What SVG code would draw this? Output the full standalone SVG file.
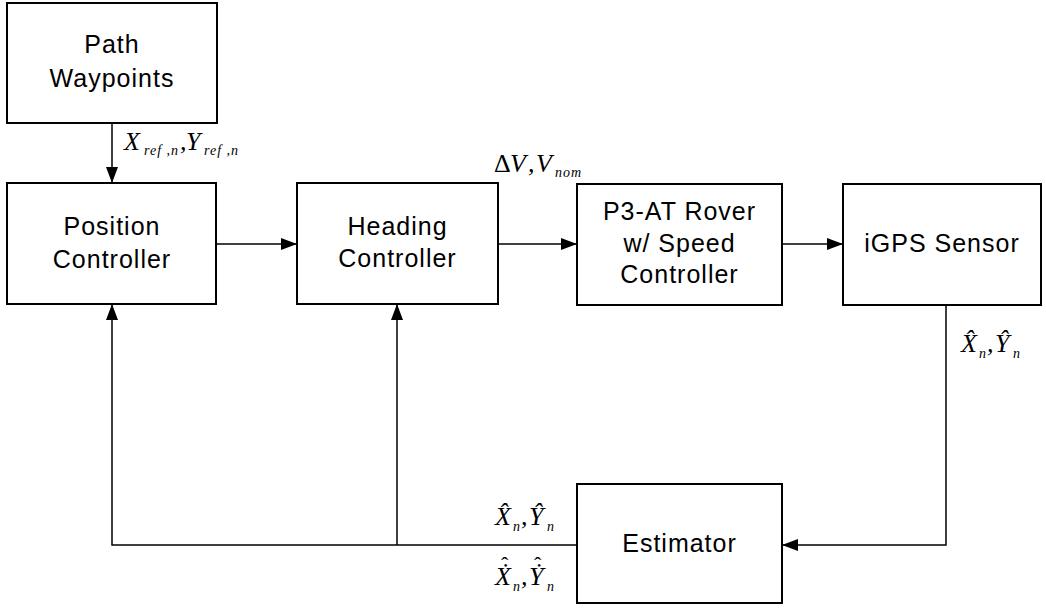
<svg xmlns="http://www.w3.org/2000/svg" width="1046" height="609" viewBox="0 0 1046 609">
<defs>
<marker id="ah" markerWidth="16" markerHeight="12" refX="16" refY="6" orient="auto" markerUnits="userSpaceOnUse">
<path d="M0,0 L16,6 L0,12 z" fill="#000"/>
</marker>
<style>
.box{fill:#fff;stroke:#000;stroke-width:2}
.lbl{font-family:"Liberation Sans",Arial,sans-serif;font-size:25px;letter-spacing:1px;text-anchor:middle;fill:#000}
.conn{fill:none;stroke:#000;stroke-width:1.5}
.m{font-family:"Liberation Serif","Times New Roman",serif;font-style:italic;font-size:26px;fill:#000}
.s{font-size:14px;letter-spacing:1px}
.hat{font-style:normal;font-size:22px}
</style>
</defs>
<rect width="1046" height="609" fill="#fff"/>
<g id="connectors">
<path class="conn" d="M112,123 V183" marker-end="url(#ah)"/>
<path class="conn" d="M216,244 H297" marker-end="url(#ah)"/>
<path class="conn" d="M498,244 H577" marker-end="url(#ah)"/>
<path class="conn" d="M782,244 H843" marker-end="url(#ah)"/>
<path class="conn" d="M946,305 V545 H782" marker-end="url(#ah)"/>
<path class="conn" d="M577,545 H112 V304" marker-end="url(#ah)"/>
<path class="conn" d="M397,545 V304" marker-end="url(#ah)"/>
</g>
<g id="path-waypoints">
<rect class="box" x="7" y="3" width="210" height="120"/>
<text class="lbl" x="112" y="53">Path</text>
<text class="lbl" x="112" y="87">Waypoints</text>
</g>
<g id="position-controller">
<rect class="box" x="7" y="183" width="209" height="121"/>
<text class="lbl" x="112" y="235">Position</text>
<text class="lbl" x="112" y="268">Controller</text>
</g>
<g id="heading-controller">
<rect class="box" x="297" y="183" width="201" height="121"/>
<text class="lbl" x="397.5" y="235">Heading</text>
<text class="lbl" x="397.5" y="267">Controller</text>
</g>
<g id="rover">
<rect class="box" x="577" y="184" width="205" height="121"/>
<text class="lbl" x="679.5" y="220">P3-AT Rover</text>
<text class="lbl" x="679.5" y="252">w/ Speed</text>
<text class="lbl" x="679.5" y="283">Controller</text>
</g>
<g id="igps-sensor">
<rect class="box" x="843" y="184" width="198" height="121"/>
<text class="lbl" x="942" y="252">iGPS Sensor</text>
</g>
<g id="estimator">
<rect class="box" x="577" y="484" width="205" height="119"/>
<text class="lbl" x="679.5" y="552">Estimator</text>
</g>
<g id="labels">
<text class="m" x="124" y="150">X<tspan class="s" x="144" y="155">ref ,n</tspan><tspan x="180" y="150">,</tspan><tspan x="186" y="150">Y</tspan><tspan class="s" x="204" y="155">ref ,n</tspan></text>
<text class="m" x="494" y="172"><tspan font-style="normal">Δ</tspan><tspan x="510">V</tspan><tspan x="528">,</tspan><tspan x="536">V</tspan><tspan class="s" x="555" y="177">nom</tspan></text>

<text class="m" x="961" y="352">X̂<tspan class="s" x="979" y="358">n</tspan><tspan x="987" y="352">,</tspan><tspan x="995" y="352">Ŷ</tspan><tspan class="s" x="1013" y="358">n</tspan></text>

<text class="m" x="495" y="525">X̂<tspan class="s" x="513" y="531">n</tspan><tspan x="521" y="525">,</tspan><tspan x="529" y="525">Ŷ</tspan><tspan class="s" x="547" y="531">n</tspan></text>

<text class="m" x="495" y="585">Ẋ<tspan class="hat" x="501" y="572">ˆ</tspan><tspan class="s" x="513" y="591">n</tspan><tspan x="521" y="585">,</tspan><tspan x="529" y="585">Ẏ</tspan><tspan class="hat" x="534" y="572">ˆ</tspan><tspan class="s" x="547" y="591">n</tspan></text>
</g>
</svg>
